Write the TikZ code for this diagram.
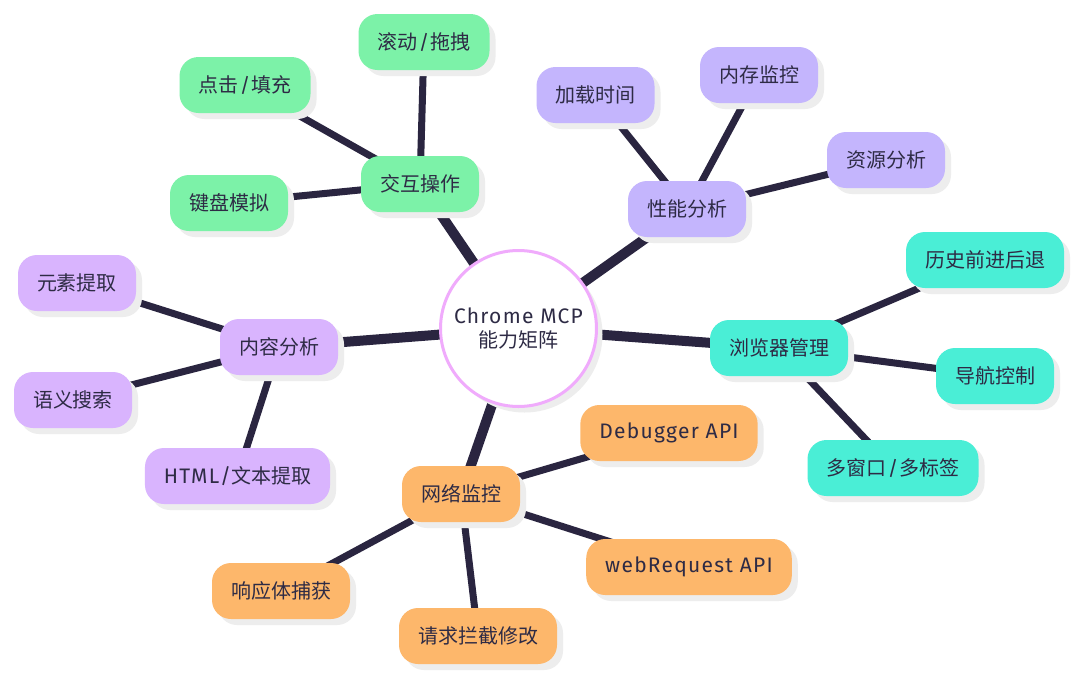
\documentclass[tikz,border=0pt]{standalone}
\usepackage{fontspec}
\setmainfont{Fira Sans}
\newfontfamily\cjk{Noto Sans CJK SC}
\newfontfamily\lat[LetterSpace=6]{Fira Sans}
\usetikzlibrary{shadows,backgrounds}
\definecolor{ink}{HTML}{2A2540}
\definecolor{txt}{HTML}{2E2B45}
\definecolor{shade}{HTML}{EDEDED}
\definecolor{mint}{HTML}{7CF2A8}
\definecolor{lilac}{HTML}{C4B5FD}
\definecolor{mauve}{HTML}{D9B4FE}
\definecolor{aqua}{HTML}{4AEED6}
\definecolor{peach}{HTML}{FDB76B}
\definecolor{rim}{HTML}{F0ABFC}
\newcommand\slsep{\hbox to 13pt{\hss{\lat/}\hss}}
\begin{document}
\begin{tikzpicture}[x=1pt,y=-1pt,line cap=round,
    box/.style={rounded corners=19pt,minimum height=56pt,inner xsep=19pt,inner ysep=0pt,text=txt,
        font=\cjk\fontsize{20}{24}\selectfont,
        drop shadow={shadow xshift=6pt,shadow yshift=-6pt,fill=shade,opacity=1}},
    trunk/.style={draw=ink,line width=10pt},
    twig/.style={draw=ink,line width=7pt}]
    \useasboundingbox (0,0) rectangle (1080,678);
    % centre
    \node[circle,draw=rim,line width=3pt,fill=white,minimum size=156pt,align=center,text=txt,
        font=\cjk\fontsize{20}{24}\selectfont,
        drop shadow={shadow xshift=6pt,shadow yshift=-6pt,fill=shade,opacity=1}] (ctr) at (518.5,328.5) {{\lat\fontsize{21}{24}\selectfont Chrome MCP}\\能力矩阵};
    % interaction
    \node[box,fill=mint] (jh) at (420,184) {交互操作};
    \node[box,fill=mint] (dj) at (245,85) {点击\slsep 填充};
    \node[box,fill=mint] (gd) at (424,42) {滚动\slsep 拖拽};
    \node[box,fill=mint] (jp) at (229,203) {键盘模拟};
    % performance
    \node[box,fill=lilac] (xn) at (687,209) {性能分析};
    \node[box,fill=lilac] (jz) at (595.5,95) {加载时间};
    \node[box,fill=lilac] (nc) at (759,75) {内存监控};
    \node[box,fill=lilac] (zy) at (886,160) {资源分析};
    % browser
    \node[box,fill=aqua] (ll) at (779,348) {浏览器管理};
    \node[box,fill=aqua] (ls) at (985,260) {历史前进后退};
    \node[box,fill=aqua] (dh) at (995,376) {导航控制};
    \node[box,fill=aqua] (dc) at (893,468) {多窗口\slsep 多标签};
    % network
    \node[box,fill=peach] (wl) at (461,494) {网络监控};
    \node[box,fill=peach] (db) at (669,433) {\lat\fontsize{21}{24}\selectfont Debugger API};
    \node[box,fill=peach] (wr) at (689,567) {\lat\fontsize{21}{24}\selectfont webRequest API};
    \node[box,fill=peach] (lj) at (478,636) {请求拦截修改};
    \node[box,fill=peach] (xy) at (281,591) {响应体捕获};
    % content
    \node[box,fill=mauve] (nr) at (279,347) {内容分析};
    \node[box,fill=mauve] (ys) at (77,283) {元素提取};
    \node[box,fill=mauve] (yy) at (73,400) {语义搜索};
    \node[box,fill=mauve] (ht) at (237.5,476) {{\lat\fontsize{21}{24}\selectfont HTML/}文本提取};
    \begin{scope}[on background layer]
        \fill[white] (0,0) rectangle (1080,678);
        \foreach \b in {jh,xn,ll,wl,nr}
            \draw[trunk] (ctr.center)--(\b.center);
        \foreach \a/\b in {jh/dj,jh/gd,jh/jp,xn/jz,xn/nc,xn/zy,ll/ls,ll/dh,ll/dc,
                wl/db,wl/wr,wl/lj,wl/xy,nr/ys,nr/yy,nr/ht}
            \draw[twig] (\a.center)--(\b.center);
    \end{scope}
\end{tikzpicture}
\end{document}
